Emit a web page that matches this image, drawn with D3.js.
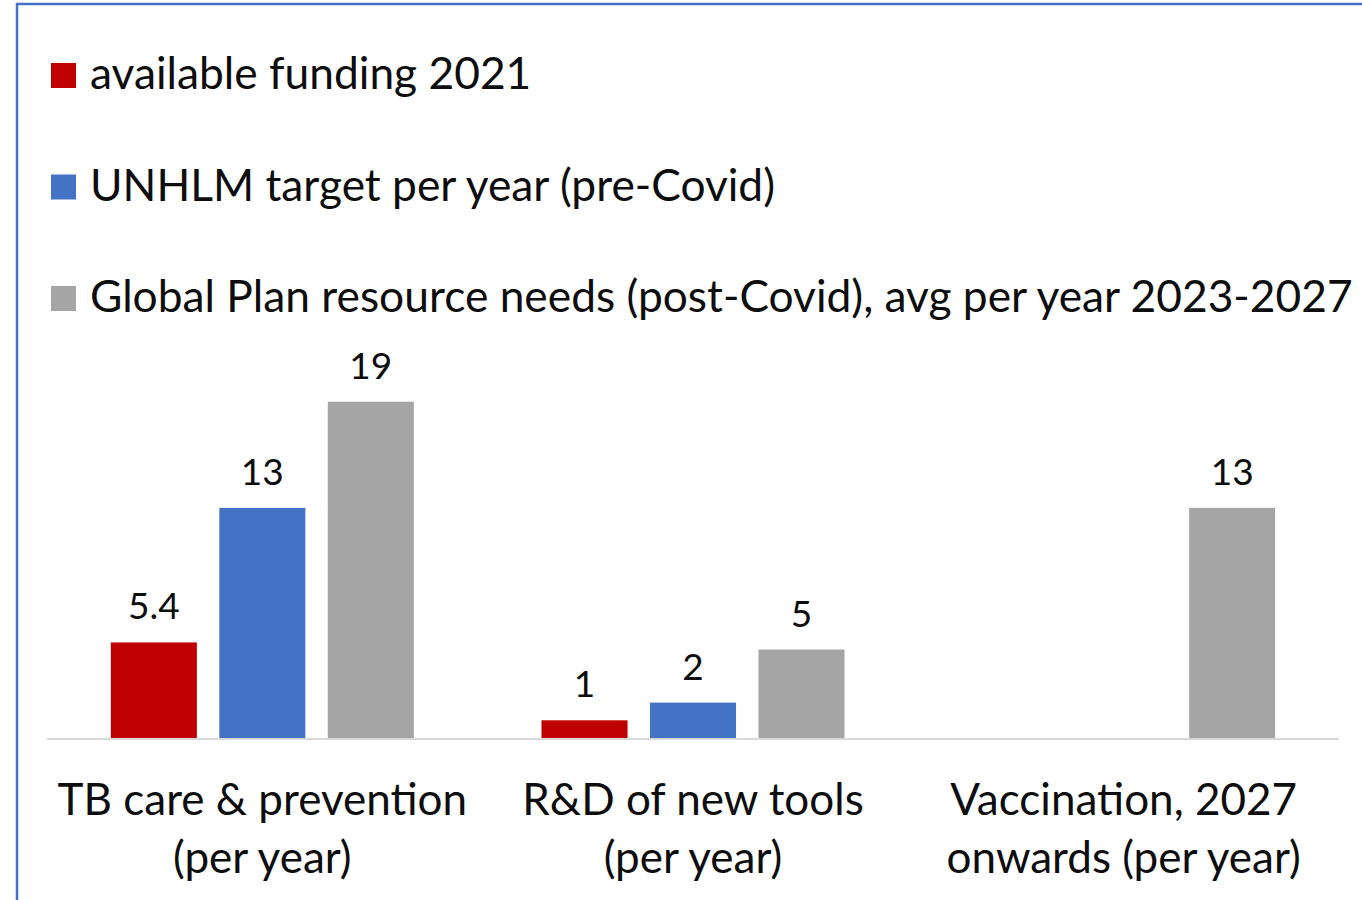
<!DOCTYPE html>
<html>
<head>
<meta charset="utf-8">
<script src="https://cdn.jsdelivr.net/npm/d3@7"></script>
<style>
  body { margin: 0; background: #fff; }
  text { font-family: Lato, "Open Sans", sans-serif; fill: #0d0d0d; }
</style>
</head>
<body>
<div id="chart"></div>
<script>
// 数据
const categories = [
  ["TB care & prevention", "(per year)"],
  ["R&D of new tools", "(per year)"],
  ["Vaccination, 2027", "onwards (per year)"]
];
const seriesNames = [
  "available funding 2021",
  "UNHLM target per year (pre-Covid)",
  "Global Plan resource needs (post-Covid), avg per year 2023-2027"
];
const availableFunding = [5.4, 1, null];
const unhlmTarget = [13, 2, null];
const globalPlanNeeds = [19, 5, 13];
const seriesColors = ["#C00000", "#4472C4", "#A5A5A5"];

const width = 1362;
const height = 900;
const allSeries = [availableFunding, unhlmTarget, globalPlanNeeds];

const svg = d3.select("#chart")
  .append("svg")
  .attr("width", width)
  .attr("height", height);

// 外框（只露出上边和左边）
svg.append("rect")
  .attr("x", 17)
  .attr("y", 4)
  .attr("width", width + 20)
  .attr("height", height + 20)
  .attr("fill", "none")
  .attr("stroke", "#4472C4")
  .attr("stroke-width", 2.5);

// 图例
const legend = svg.selectAll("g.legend")
  .data(seriesNames)
  .enter()
  .append("g")
  .attr("class", "legend")
  .attr("transform", (d, i) => `translate(51, ${63 + i * 111.5})`);

legend.append("rect")
  .attr("width", 25)
  .attr("height", 25)
  .attr("fill", (d, i) => seriesColors[i]);

legend.append("text")
  .attr("x", 39)
  .attr("y", 26)
  .attr("font-size", 44.3)
  .text(d => d);

// 比例尺
const x0 = d3.scaleBand()
  .domain(d3.range(categories.length))
  .range([47, 1339]);

const groupWidth = 303;
const x1 = d3.scaleBand()
  .domain(d3.range(seriesNames.length))
  .range([(x0.bandwidth() - groupWidth) / 2, (x0.bandwidth() + groupWidth) / 2])
  .paddingInner(0.207);

const y = d3.scaleLinear()
  .domain([0, 20])
  .range([738, 384]);

// 画柱
const groups = svg.selectAll("g.group")
  .data(categories)
  .enter()
  .append("g")
  .attr("class", "group")
  .attr("transform", (d, i) => `translate(${x0(i)}, 0)`);

groups.each(function(d, ci) {
  const g = d3.select(this);
  const vals = allSeries
    .map((s, si) => ({ si, v: s[ci] }))
    .filter(o => o.v != null);

  g.selectAll("rect")
    .data(vals)
    .enter()
    .append("rect")
    .attr("x", o => x1(o.si))
    .attr("y", o => y(o.v))
    .attr("width", x1.bandwidth())
    .attr("height", o => y(0) - y(o.v))
    .attr("fill", o => seriesColors[o.si]);

  // 数值标签
  g.selectAll("text.val")
    .data(vals)
    .enter()
    .append("text")
    .attr("class", "val")
    .attr("x", o => x1(o.si) + x1.bandwidth() / 2)
    .attr("y", o => y(o.v) - 23)
    .attr("text-anchor", "middle")
    .attr("font-size", 37)
    .text(o => o.v);

  // 类别标签
  g.append("text")
    .attr("x", x0.bandwidth() / 2)
    .attr("y", 815)
    .attr("text-anchor", "middle")
    .attr("font-size", 44)
    .selectAll("tspan")
    .data(d)
    .enter()
    .append("tspan")
    .attr("x", x0.bandwidth() / 2)
    .attr("dy", (t, i) => i === 0 ? 0 : 58)
    .text(t => t);
});

// x轴线
svg.append("line")
  .attr("x1", 47)
  .attr("x2", 1339)
  .attr("y1", y(0) + 1)
  .attr("y2", y(0) + 1)
  .attr("stroke", "#D9D9D9")
  .attr("stroke-width", 2);
</script>
</body>
</html>
